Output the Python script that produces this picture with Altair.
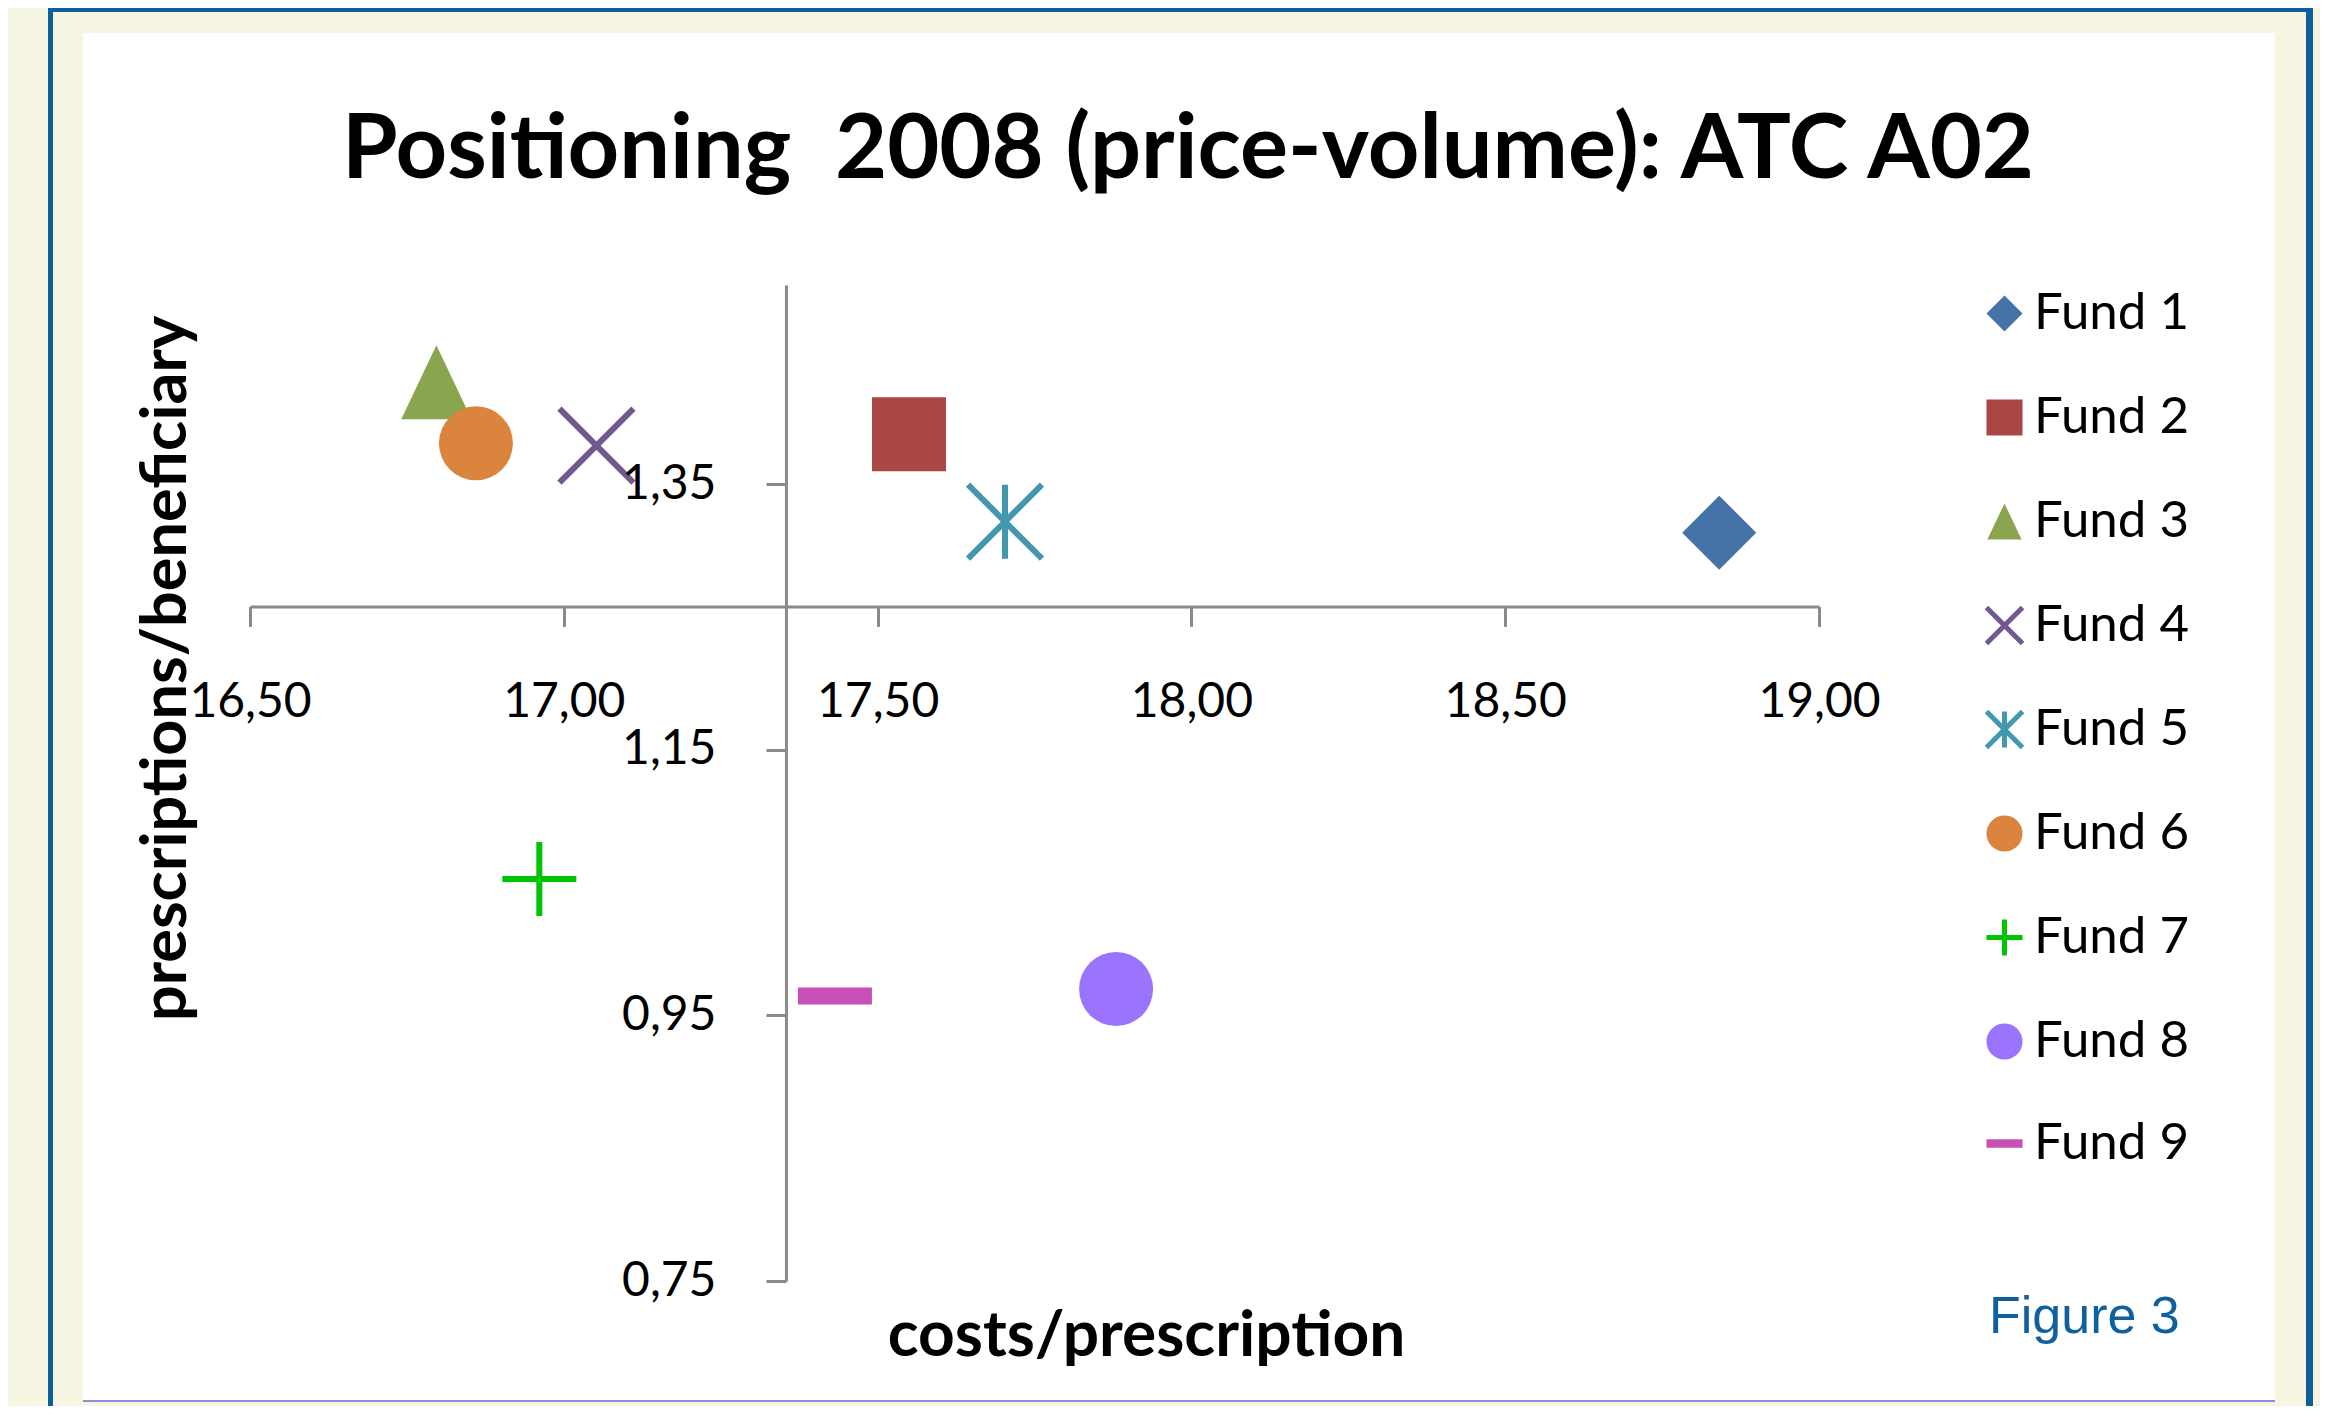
import altair as alt
import pandas as pd

# ---------------- data ----------------
funds = ["Fund 1", "Fund 2", "Fund 3", "Fund 4", "Fund 5",
         "Fund 6", "Fund 7", "Fund 8", "Fund 9"]
costs = [18.841, 17.550, 16.797, 17.052, 17.703, 16.860, 16.961, 17.880, 17.432]
presc = [1.3135, 1.3877, 1.4267, 1.379, 1.3218, 1.3808, 1.0527, 0.9699, 0.9646]

x_ticks = [16.5, 17.0, 17.5, 18.0, 18.5, 19.0]
y_ticks = [0.75, 0.95, 1.15, 1.35]
x_domain = [16.5, 19.0]
y_domain = [0.75, 1.5]
x_cross = 17.354   # cost value where the vertical axis crosses
y_cross = 1.258    # presc value where the horizontal axis crosses

title_text = "Positioning\u00a0 2008 (price-volume): ATC A02"
x_title = "costs/prescription"
y_title = "prescriptions/beneficiary"
figure_label = "Figure 3"

# ---------------- styles ----------------
fill_colors = ["#4572A7", "#AA4643", "#89A54E", "transparent", "transparent",
               "#DB843D", "transparent", "#9B74FE", "#C84FB6"]
stroke_colors = ["transparent", "transparent", "transparent", "#71588F", "#4198AF",
                 "transparent", "#00C400", "transparent", "transparent"]
shapes = ["diamond", "square", "M0,-1L0.95,1L-0.95,1Z",
          "M-1,-1L1,1M1,-1L-1,1",
          "M-1,-1L1,1M1,-1L-1,1M0,-1L0,1",
          "circle", "M-1,0L1,0M0,-1L0,1", "circle",
          "M-1,-0.23L1,-0.23L1,0.23L-1,0.23Z"]

df = pd.DataFrame({"fund": funds, "cost": costs, "presc": presc})

W, H = 1569, 996
PAD_L, PAD_T = 242, 277
CANVAS_W, CANVAS_H = 2312, 1398

x_off_px = (x_cross - x_domain[0]) / (x_domain[1] - x_domain[0]) * W
y_px = (y_domain[1] - y_cross) / (y_domain[1] - y_domain[0]) * H

label_expr = "replace(format(datum.value, '.2f'), '.', ',')"
AX_COLOR = "#8A8A8A"
FONT = "Lato"

legend = alt.Legend(orient="none", legendX=1729, legendY=3, title=None, zindex=1)

points = alt.Chart(df).mark_point(
    filled=True, opacity=1, size=5476, strokeWidth=6
).encode(
    x=alt.X("cost:Q",
            scale=alt.Scale(domain=x_domain, zero=False, nice=False),
            axis=alt.Axis(values=x_ticks, offset=-(H - y_px), labelExpr=label_expr,
                          grid=False, labelFlush=False, labelPadding=52,
                          title=x_title, titleX=896, titleY=1070 - y_px,
                          titleAlign="center", titleBaseline="alphabetic",
                          titleAngle=0, titleFontSize=64, zindex=1)),
    y=alt.Y("presc:Q",
            scale=alt.Scale(domain=y_domain, zero=False, nice=False),
            axis=alt.Axis(values=y_ticks, offset=-x_off_px, labelExpr=label_expr,
                          grid=False, labelPadding=50,
                          title=y_title, titleX=-65 - x_off_px, titleY=383,
                          titleAlign="center", titleBaseline="alphabetic",
                          titleAngle=270, titleFontSize=63, zindex=1)),
    fill=alt.Fill("fund:N", scale=alt.Scale(domain=funds, range=fill_colors), legend=legend),
    stroke=alt.Stroke("fund:N", scale=alt.Scale(domain=funds, range=stroke_colors), legend=legend),
    shape=alt.Shape("fund:N", scale=alt.Scale(domain=funds, range=shapes), legend=legend),
)

one = alt.Data(values=[{"k": 1}])


def box(x1, x2, y1, y2, color):
    return alt.Chart(one).mark_rect(color=color, opacity=1).encode(
        x=alt.value(x1), x2=alt.value(x2), y=alt.value(y1), y2=alt.value(y2))


panel = box(-167, 2025, -252, 1115, "white")
left_line = box(-202, -197, -277, 1121, "#0D5F99")
right_line = box(2056, 2063, -277, 1121, "#0D5F99")
top_line = box(-202, 2063, -277, -273, "#0D5F99")
bottom_line = box(-167, 2025, 1115, 1117, "#8C90DA")

title = alt.Chart(one).mark_text(
    text=title_text, font=FONT, fontWeight="bold", fontSize=90, color="black",
    align="center", baseline="alphabetic"
).encode(x=alt.value(938), y=alt.value(-107))

fig = alt.Chart(one).mark_text(
    text=figure_label, font="Liberation Sans", fontSize=52, color="#10609E",
    align="left", baseline="alphabetic"
).encode(x=alt.value(1739), y=alt.value(1048))

chart = alt.layer(
    panel, left_line, right_line, top_line, bottom_line, points, title, fig
).properties(
    width=W, height=H,
    autosize=alt.AutoSizeParams(type="none"),
    padding={"left": PAD_L, "top": PAD_T,
             "right": CANVAS_W - PAD_L - W, "bottom": CANVAS_H - PAD_T - H},
    background="#F6F5E1",
).configure_view(stroke=None).configure_axis(
    domainColor=AX_COLOR, domainWidth=3, tickColor=AX_COLOR, tickWidth=3, tickSize=20,
    labelFont=FONT, labelFontSize=48, labelColor="black",
    titleFont=FONT, titleFontWeight="bold", titleColor="black",
).configure_legend(
    labelFont=FONT, labelFontSize=51, labelColor="black",
    symbolSize=1300, symbolStrokeWidth=5, rowPadding=47, labelOffset=4,
    padding=0,
)

chart.save("out.html", embed_options={"renderer": "svg", "actions": False})
